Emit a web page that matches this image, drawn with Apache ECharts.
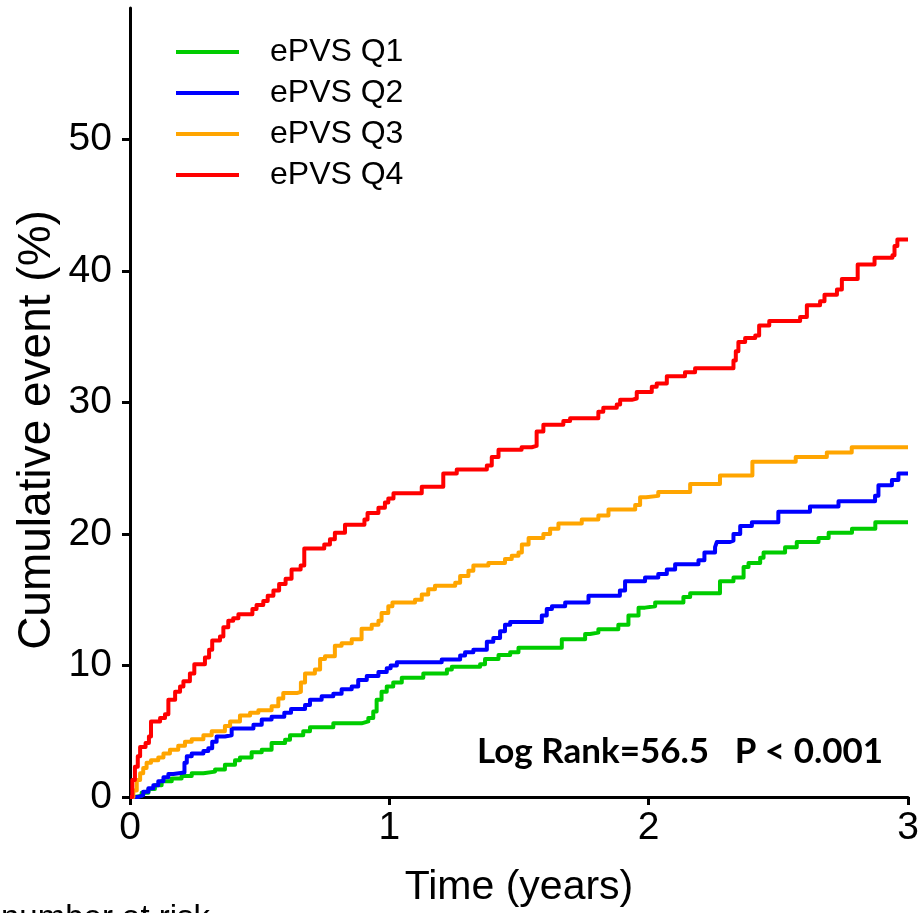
<!DOCTYPE html>
<html>
<head>
<meta charset="utf-8">
<script src="https://cdn.jsdelivr.net/npm/echarts@6/dist/echarts.min.js"></script>
<style>
html,body{margin:0;padding:0;background:#fff;}
#chart{width:922px;height:913px;}
</style>
</head>
<body>
<div id="chart"></div>
<script>
// Series names
const seriesNames = ['ePVS Q1', 'ePVS Q2', 'ePVS Q3', 'ePVS Q4'];
const seriesColors = ['#00CC00', '#0000FF', '#FFA500', '#FF0000'];

// Tick values
const xTicks = [0, 1, 2, 3];
const yTicks = [0, 10, 20, 30, 40, 50];

// [time (years), cumulative event (%)] — value reached at each step
const q1 = [[0,0],[0.019,0.1],[0.045,0.33],[0.071,0.6],[0.096,0.9],[0.122,1.2],[0.161,1.4],[0.199,1.6],[0.238,1.8],[0.283,1.93],[0.328,2.1],[0.366,2.45],[0.405,2.8],[0.424,3.0],[0.469,3.4],[0.508,3.6],[0.546,4.1],[0.598,4.35],[0.617,4.7],[0.668,5.0],[0.694,5.3],[0.784,5.6],[0.893,5.75],[0.919,6.0],[0.938,6.5],[0.951,7.4],[0.97,8.0],[0.99,8.4],[1.015,8.7],[1.048,9.06],[1.131,9.4],[1.222,9.7],[1.241,9.9],[1.35,10.1],[1.369,10.5],[1.421,10.8],[1.466,11.0],[1.498,11.35],[1.665,12.0],[1.755,12.4],[1.774,12.5],[1.806,12.75],[1.883,13.1],[1.922,13.8],[1.961,14.4],[1.986,14.5],[2.025,14.8],[2.134,15.2],[2.16,15.5],[2.275,16.4],[2.327,16.7],[2.366,17.5],[2.385,17.8],[2.43,18.2],[2.443,18.6],[2.526,19.0],[2.571,19.4],[2.655,19.7],[2.694,20.1],[2.784,20.4],[2.874,20.9],[3.0,20.9]];

const q2 = [[0,0],[0.032,0.15],[0.051,0.4],[0.071,0.66],[0.09,0.9],[0.109,1.2],[0.129,1.5],[0.148,1.75],[0.167,1.86],[0.21,2.6],[0.219,3.1],[0.238,3.3],[0.283,3.5],[0.302,3.7],[0.317,4.2],[0.334,4.6],[0.366,4.7],[0.392,5.2],[0.476,5.5],[0.508,5.9],[0.546,6.1],[0.595,6.4],[0.621,6.7],[0.675,7.0],[0.694,7.4],[0.739,7.66],[0.784,7.86],[0.816,8.2],[0.855,8.4],[0.88,8.9],[0.913,9.2],[0.958,9.5],[0.99,9.8],[1.005,10.0],[1.029,10.25],[1.202,10.46],[1.273,10.76],[1.292,11.0],[1.324,11.2],[1.376,11.8],[1.401,12.1],[1.427,12.6],[1.446,13.1],[1.466,13.3],[1.588,13.8],[1.607,14.3],[1.627,14.5],[1.678,14.8],[1.768,15.3],[1.889,15.7],[1.909,16.4],[1.986,16.7],[2.037,16.95],[2.07,17.3],[2.102,17.7],[2.192,18.0],[2.215,18.6],[2.256,19.0],[2.263,19.4],[2.314,19.5],[2.327,20.0],[2.353,20.6],[2.398,20.9],[2.50,21.7],[2.622,22.1],[2.732,22.5],[2.873,22.9],[2.886,23.7],[2.938,24.1],[2.963,24.6],[3.0,24.6]];

const q3 = [[0,0],[0.013,0.5],[0.026,1.3],[0.039,1.8],[0.051,2.2],[0.064,2.6],[0.081,2.8],[0.109,3.0],[0.129,3.3],[0.154,3.6],[0.186,3.9],[0.212,4.2],[0.238,4.4],[0.283,4.7],[0.315,5.0],[0.366,5.4],[0.386,5.75],[0.424,6.2],[0.463,6.4],[0.495,6.6],[0.546,6.9],[0.572,7.5],[0.591,7.9],[0.643,8.0],[0.659,8.7],[0.675,9.4],[0.713,9.7],[0.733,10.5],[0.752,10.7],[0.79,11.5],[0.816,11.7],[0.855,12.0],[0.893,12.8],[0.932,13.1],[0.958,13.4],[0.97,14.0],[0.996,14.5],[1.012,14.8],[1.099,15.0],[1.125,15.4],[1.15,15.8],[1.176,16.06],[1.254,16.3],[1.273,16.8],[1.305,17.2],[1.324,17.6],[1.382,17.8],[1.446,18.1],[1.472,18.35],[1.498,18.6],[1.511,19.2],[1.537,19.7],[1.594,20.0],[1.62,20.4],[1.652,20.8],[1.742,21.1],[1.806,21.4],[1.845,21.86],[1.948,22.2],[1.967,22.8],[1.99,22.9],[2.037,23.2],[2.16,23.8],[2.275,24.45],[2.40,25.5],[2.567,25.85],[2.687,26.2],[2.783,26.6],[3.0,26.6]];

const q4 = [[0,0],[0.009,1.3],[0.019,2.3],[0.03,3.1],[0.039,3.8],[0.06,4.1],[0.073,4.6],[0.081,5.75],[0.116,6.0],[0.135,6.3],[0.148,7.4],[0.174,8.0],[0.193,8.4],[0.206,8.8],[0.231,9.4],[0.248,10.1],[0.289,10.6],[0.305,11.2],[0.317,11.9],[0.347,12.2],[0.36,12.9],[0.379,13.4],[0.398,13.6],[0.418,13.9],[0.472,14.3],[0.488,14.6],[0.514,14.9],[0.531,15.3],[0.553,15.7],[0.575,16.2],[0.6,16.6],[0.623,17.3],[0.658,17.6],[0.672,18.9],[0.749,19.2],[0.771,19.6],[0.79,20.1],[0.829,20.7],[0.904,21.1],[0.916,21.6],[0.958,22.0],[0.983,22.4],[0.996,22.7],[1.016,23.1],[1.125,23.6],[1.208,24.6],[1.26,24.9],[1.376,25.2],[1.395,25.85],[1.421,26.4],[1.51,26.6],[1.549,26.7],[1.568,27.8],[1.594,28.3],[1.671,28.6],[1.697,28.8],[1.806,29.3],[1.825,29.6],[1.877,29.85],[1.89,30.2],[1.935,30.3],[1.954,30.8],[2.012,31.2],[2.031,31.45],[2.07,32.0],[2.14,32.3],[2.179,32.6],[2.327,33.2],[2.336,33.9],[2.346,34.6],[2.372,34.9],[2.411,35.1],[2.426,35.85],[2.465,36.2],[2.584,36.5],[2.61,37.4],[2.661,37.7],[2.678,38.2],[2.726,38.6],[2.745,39.4],[2.806,40.5],[2.871,41.0],[2.94,41.2],[2.948,41.9],[2.959,42.4],[3.0,42.4]];

const allData = [q1, q2, q3, q4];

const chart = echarts.init(document.getElementById('chart'), null, {renderer: 'canvas'});
const font = '"Liberation Sans", Arial, sans-serif';

const option = {
  backgroundColor: '#fff',
  animation: false,
  grid: {left: 130, right: 14, top: 8, bottom: 116, containLabel: false},
  legend: {
    orient: 'vertical',
    left: 171,
    top: 31,
    icon: 'rect',
    itemWidth: 63,
    itemHeight: 4,
    itemGap: 9,
    textStyle: {fontFamily: font, fontSize: 32, color: '#000', lineHeight: 32, padding: [0, 0, 0, 26]},
    data: seriesNames
  },
  xAxis: {
    type: 'value',
    min: 0, max: 3, interval: 1,
    name: 'Time (years)',
    nameLocation: 'middle',
    nameGap: 70,
    nameTextStyle: {fontFamily: font, fontSize: 41, color: '#000'},
    axisLine: {show: true, onZero: false, lineStyle: {color: '#000', width: 3}},
    axisTick: {show: true, length: 8, lineStyle: {color: '#000', width: 3}, customValues: xTicks},
    axisLabel: {fontFamily: font, fontSize: 39, color: '#000', margin: 12, customValues: xTicks},
    splitLine: {show: false}
  },
  yAxis: {
    type: 'value',
    min: 0, max: 60, interval: 10,
    axisLine: {show: true, onZero: false, lineStyle: {color: '#000', width: 3}},
    axisTick: {show: true, length: 8, lineStyle: {color: '#000', width: 3}, customValues: yTicks},
    axisLabel: {fontFamily: font, fontSize: 39, color: '#000', margin: 18, customValues: yTicks},
    splitLine: {show: false}
  },
  series: allData.map((d, i) => ({
    name: seriesNames[i],
    type: 'line',
    step: 'end',
    data: d,
    showSymbol: false,
    symbol: 'none',
    color: seriesColors[i],
    lineStyle: {color: seriesColors[i], width: 4, join: 'round'},
    z: 2 + i
  })),
  graphic: [
    {
      type: 'text',
      x: 37,
      y: 430,
      rotation: Math.PI / 2,
      style: {
        text: 'Cumulative event (%)',
        font: '46px "Liberation Sans", Arial, sans-serif',
        fill: '#000',
        align: 'center',
        verticalAlign: 'middle'
      }
    },
    {
      type: 'text',
      left: 477,
      top: 734,
      style: {
        text: 'Log Rank=56.5   P < 0.001',
        font: 'bold 35px Lato, "Open Sans", sans-serif',
        fill: '#000'
      }
    },
    {
      type: 'text',
      left: 1,
      top: 902,
      style: {
        text: 'number at risk',
        font: '33px "Liberation Sans", Arial, sans-serif',
        fill: '#000'
      }
    }
  ]
};
chart.setOption(option);
</script>
</body>
</html>
